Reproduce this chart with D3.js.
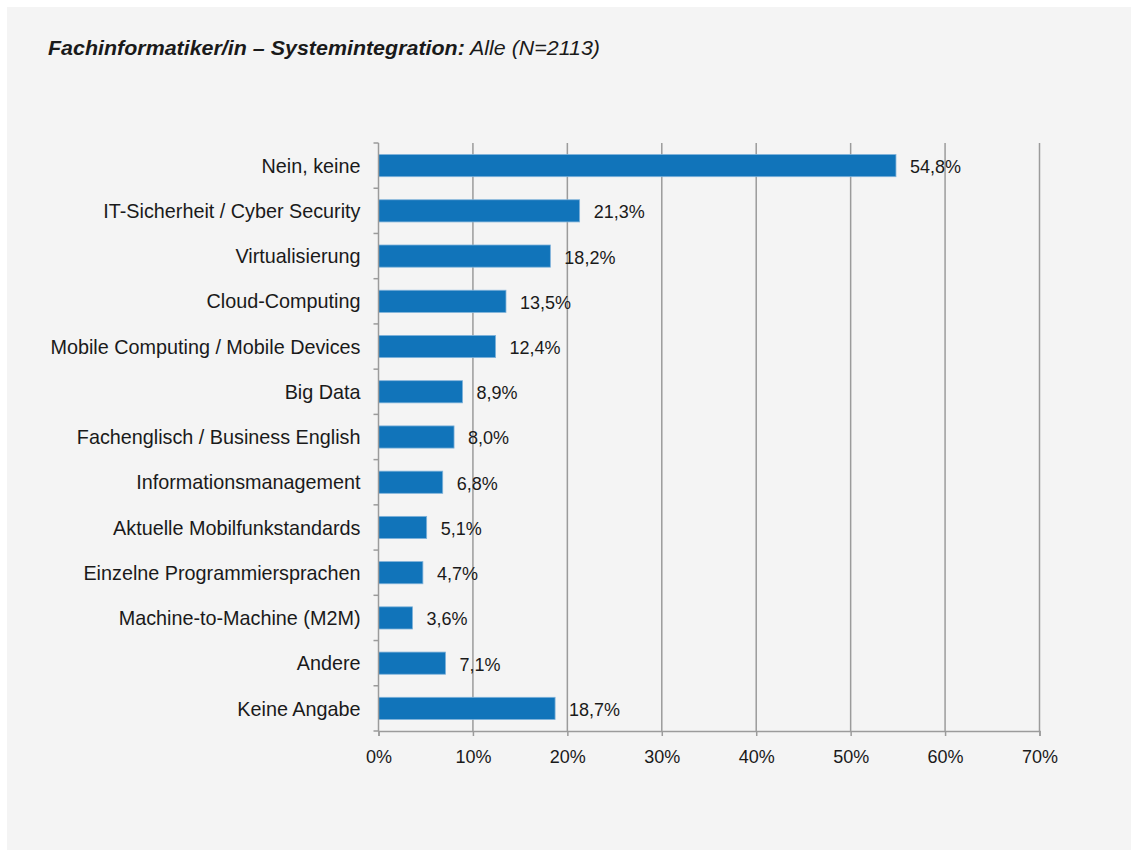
<!DOCTYPE html>
<html>
<head>
<meta charset="utf-8">
<script src="https://cdn.jsdelivr.net/npm/d3@7"></script>
<style>
  html, body { margin: 0; padding: 0; background: #ffffff; }
  svg { display: block; }
  text { font-family: "Liberation Sans", Arial, sans-serif; fill: #1a1a1a; }
</style>
</head>
<body>
<svg id="chart" width="1131" height="850"></svg>
<script>
// Survey answers (share of respondents, %)
const categories = [
  "Nein, keine",
  "IT-Sicherheit / Cyber Security",
  "Virtualisierung",
  "Cloud-Computing",
  "Mobile Computing / Mobile Devices",
  "Big Data",
  "Fachenglisch / Business English",
  "Informationsmanagement",
  "Aktuelle Mobilfunkstandards",
  "Einzelne Programmiersprachen",
  "Machine-to-Machine (M2M)",
  "Andere",
  "Keine Angabe"
];
const values = [54.8, 21.3, 18.2, 13.5, 12.4, 8.9, 8.0, 6.8, 5.1, 4.7, 3.6, 7.1, 18.7];
const tickValues = [0, 10, 20, 30, 40, 50, 60, 70];
const titleBold = "Fachinformatiker/in – Systemintegration:";
const titleRest = " Alle (N=2113)";

const svg = d3.select("#chart");

// panel background
svg.append("rect")
  .attr("x", 7).attr("y", 7)
  .attr("width", 1131 - 7).attr("height", 850 - 7)
  .attr("fill", "#f4f4f4");

// title
const title = svg.append("text")
  .attr("x", 48).attr("y", 55)
  .style("font-size", "20.5px")
  .style("font-style", "italic")
  .attr("textLength", 552)
  .attr("lengthAdjust", "spacingAndGlyphs");
title.append("tspan").style("font-weight", "bold").text(titleBold);
title.append("tspan").text(titleRest);

const plotLeft = 378.5, plotRight = 1039.5, plotTop = 143, plotBottom = 731;

const x = d3.scaleLinear().domain([0, 70]).range([plotLeft, plotRight]);
const y = d3.scaleBand().domain(categories).range([plotTop, plotBottom]).paddingInner(0.51).paddingOuter(0.255);
const band = d3.scaleBand().domain(categories).range([plotTop, plotBottom]);

// vertical gridlines
svg.append("g").selectAll("line")
  .data(tickValues.slice(1))
  .join("line")
  .attr("x1", d => x(d)).attr("x2", d => x(d))
  .attr("y1", plotTop).attr("y2", plotBottom)
  .attr("stroke", "#9b9b9b").attr("stroke-width", 1.5);

// bars
svg.append("g").selectAll("rect")
  .data(categories)
  .join("rect")
  .attr("x", x(0))
  .attr("y", d => y(d))
  .attr("width", (d, i) => x(values[i]) - x(0))
  .attr("height", y.bandwidth())
  .attr("fill", "#1174ba")
  .attr("stroke", "#7fb2da")
  .attr("stroke-width", 0.8);

// value labels
svg.append("g").selectAll("text")
  .data(categories)
  .join("text")
  .attr("x", (d, i) => x(values[i]) + 14)
  .attr("y", d => y(d) + y.bandwidth() / 2 + 1)
  .attr("dy", "0.36em")
  .style("font-size", "18px")
  .text((d, i) => d3.format(".1f")(values[i]).replace(".", ",") + "%");

// bottom axis
const xAxis = d3.axisBottom(x)
  .tickValues(tickValues)
  .tickSize(5)
  .tickPadding(14)
  .tickFormat(d => d + "%");
const gx = svg.append("g").attr("transform", `translate(0,${plotBottom})`).call(xAxis);
gx.select(".domain").attr("stroke", "#9b9b9b").attr("stroke-width", 1.5);
gx.selectAll(".tick line").attr("stroke", "#9b9b9b").attr("stroke-width", 1.5);
gx.selectAll(".tick text").style("font-size", "18px").attr("fill", "#1a1a1a")
  .style("font-family", "'Liberation Sans', Arial, sans-serif");

// left axis: line plus ticks on category boundaries
const gy = svg.append("g");
gy.append("line")
  .attr("x1", plotLeft).attr("x2", plotLeft).attr("y1", plotTop).attr("y2", plotBottom)
  .attr("stroke", "#9b9b9b").attr("stroke-width", 1.5);
const boundaries = categories.map(c => band(c)).concat([plotBottom]);
gy.selectAll("line.tk")
  .data(boundaries)
  .join("line").attr("class", "tk")
  .attr("x1", plotLeft - 5).attr("x2", plotLeft)
  .attr("y1", d => d).attr("y2", d => d)
  .attr("stroke", "#9b9b9b").attr("stroke-width", 1.5);

// category labels
gy.selectAll("text")
  .data(categories)
  .join("text")
  .attr("x", plotLeft - 18)
  .attr("y", d => band(d) + band.bandwidth() / 2)
  .attr("dy", "0.36em")
  .attr("text-anchor", "end")
  .style("font-size", "19.8px")
  .text(d => d);
</script>
</body>
</html>
